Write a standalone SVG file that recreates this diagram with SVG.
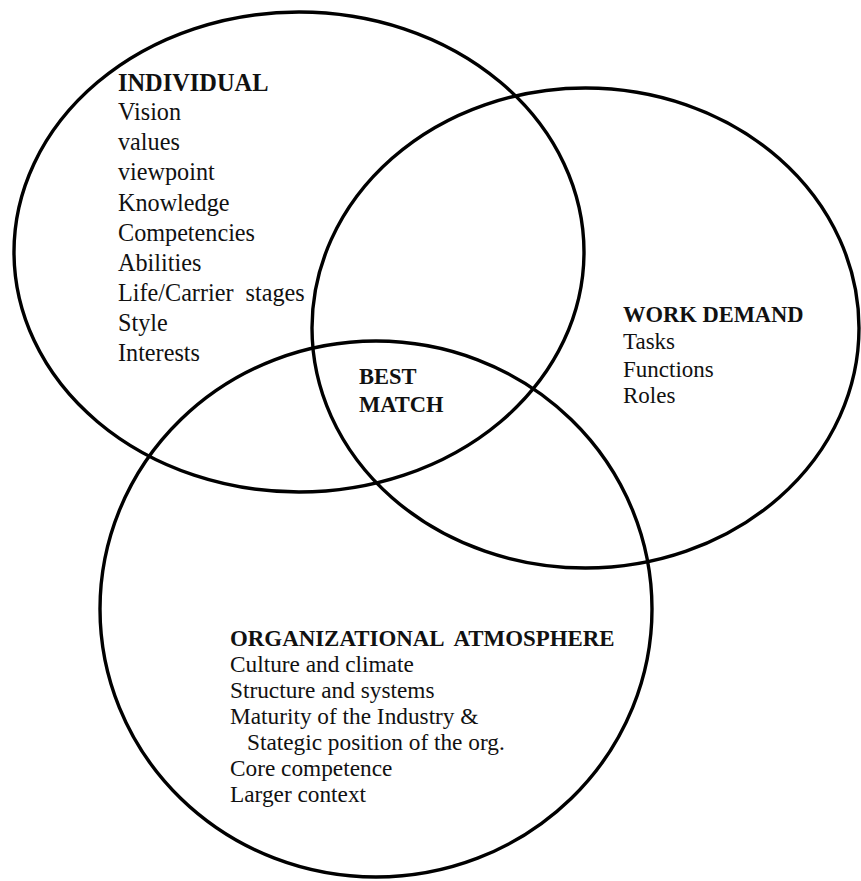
<svg xmlns="http://www.w3.org/2000/svg" width="861" height="881" viewBox="0 0 861 881">
<style>
.ring{fill:none;stroke:#000;stroke-width:3.4}
text{font-family:"Liberation Serif","Times New Roman",serif;font-size:23px;fill:#111}
.h{font-weight:bold;font-size:22.5px}
.ind text{font-size:24.2px}
.ind text.h{font-size:24.4px}
.org text{font-size:23.3px}
.org text.h{font-size:22.9px}
</style>
<rect width="861" height="881" fill="#fff"/>
<g id="rings">
<ellipse id="ring-individual" class="ring" cx="299" cy="252" rx="285" ry="240"/>
<ellipse id="ring-work" class="ring" cx="585.5" cy="328" rx="273.5" ry="240"/>
<ellipse id="ring-org" class="ring" cx="376" cy="609" rx="276" ry="268"/>
</g>
<g id="individual" class="ind">
<text class="h" x="118" y="91">INDIVIDUAL</text>
<text x="118" y="120">Vision</text>
<text x="118" y="150">values</text>
<text x="118" y="180">viewpoint</text>
<text x="118" y="211">Knowledge</text>
<text x="118" y="241">Competencies</text>
<text x="118" y="271">Abilities</text>
<text x="118" y="301" xml:space="preserve">Life/Carrier  stages</text>
<text x="118" y="331">Style</text>
<text x="118" y="361">Interests</text>
</g>
<g id="work-demand">
<text class="h" x="623" y="322">WORK DEMAND</text>
<text x="623" y="349">Tasks</text>
<text x="623" y="377">Functions</text>
<text x="623" y="403">Roles</text>
</g>
<g id="best-match">
<text class="h" x="359" y="384">BEST</text>
<text class="h" x="359" y="412">MATCH</text>
</g>
<g id="organizational" class="org">
<text class="h" x="230" y="646" xml:space="preserve">ORGANIZATIONAL  ATMOSPHERE</text>
<text x="230" y="672">Culture and climate</text>
<text x="230" y="698">Structure and systems</text>
<text x="230" y="724">Maturity of the Industry &amp;</text>
<text x="247" y="750">Stategic position of the org.</text>
<text x="230" y="776">Core competence</text>
<text x="230" y="802">Larger context</text>
</g>
</svg>
